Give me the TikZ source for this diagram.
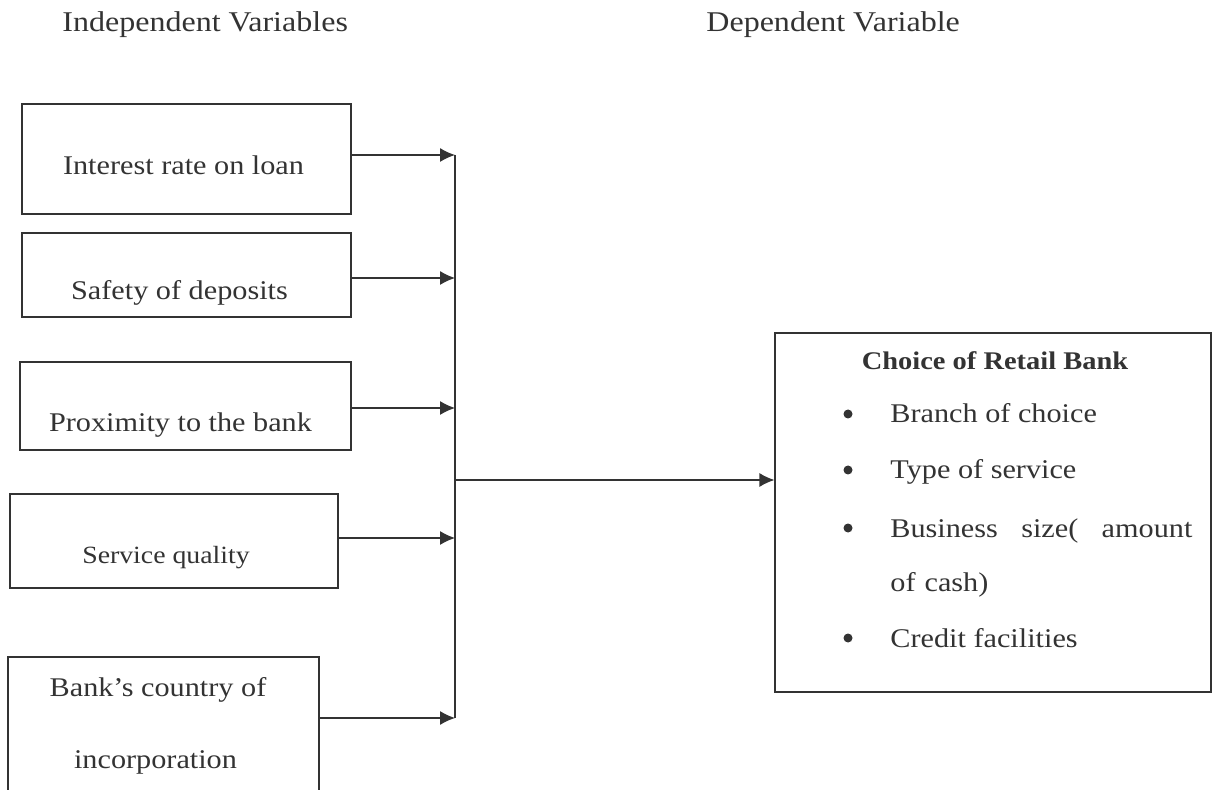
\documentclass[tikz,border=0pt]{standalone}
\usepackage{fontspec}
\setmainfont{Liberation Serif}[FakeStretch=1.12]
\usetikzlibrary{arrows.meta,positioning}

\definecolor{ink}{HTML}{333333}

\begin{document}
\begin{tikzpicture}[
    x=0.5pt, y=-0.5pt,
    >={Latex[length=7.5pt,width=7pt]},
    every node/.style = {text=ink, font=\fontsize{13.5}{16}\selectfont},
    varbox/.style = {draw=ink, line width=0.6pt, inner sep=0pt},
    txt/.style    = {anchor=base, inner sep=0pt},
    head/.style   = {anchor=base west, inner sep=0pt, font=\fontsize{14.3}{17}\selectfont},
    item/.style   = {anchor=base west, inner sep=0pt},
    dot/.style    = {circle, fill=ink, inner sep=0pt, minimum size=4.5pt},
    link/.style   = {draw=ink, line width=0.6pt},
  ]
	\clip (0,0) rectangle (1214,790);
	\fill[white] (0,0) rectangle (1214,790);
	
	% Ueberschriften
	\node[head] (hind) at (62,32) {Independent Variables};
	\node[head] (hdep) at (706,32) {Dependent Variable};
	
	% unabhaengige Variablen
	\node[varbox, minimum width=164.5pt, minimum height=55pt] (iv1) at (186.5,159) {};
	\node[varbox, minimum width=164.5pt, minimum height=42pt] (iv2) at (186.5,275) {};
	\node[varbox, minimum width=165.5pt, minimum height=44pt] (iv3) at (185.5,406) {};
	\node[varbox, minimum width=164pt, minimum height=47pt] (iv4) at (174,541) {};
	\node[varbox, minimum width=155.5pt, minimum height=71.5pt] (iv5) at (163.5,728.5) {};
	
	\node[txt] (t1) at (183.5,175) {Interest rate on loan};
	\node[txt] (t2) at (179.5,300) {Safety of deposits};
	\node[txt] (t3) at (180.5,432) {Proximity to the bank};
	\node[txt, font=\fontsize{12.4}{15}\selectfont] (t4) at (166,563) {Service quality};
	\node[txt] (t5a) at (158,696) {Bank’s country of};
	\node[txt] (t5b) at (155.5,768) {incorporation};
	
	% abhaengige Variable
	\node[varbox, minimum width=218pt, minimum height=179.5pt] (dv) at (993,512.5) {};
	\node[txt, font=\bfseries\fontsize{12.7}{15}\selectfont] (dvt) at (995,370) {Choice of Retail Bank};
	
	\node[dot] (d1) at (848,414) {};
	\node[dot] (d2) at (848,470) {};
	\node[dot] (d3) at (848,528) {};
	\node[dot] (d4) at (848,638) {};
	\node[item] (b1) at (890,423) {Branch of choice};
	\node[item] (b2) at (890,479) {Type of service};
	\node[item, text width=151pt, align=left,
	      font=\fontsize{13.5}{27}\selectfont] (b3) at (890,537) {Business\hfill size(\hfill amount\\of cash)};
	\node[item] (b4) at (890,647) {Credit facilities};
	
	% Sammelschiene
	\coordinate (j1) at (455,155);
	\coordinate (j2) at (455,278);
	\coordinate (j3) at (455,408);
	\coordinate (j4) at (455,538);
	\coordinate (j5) at (455,718);
	\coordinate (jm) at (455,480);
	
	\draw[link,->] (iv1.east |- j1) -- (j1);
	\draw[link,->] (iv2.east |- j2) -- (j2);
	\draw[link,->] (iv3.east |- j3) -- (j3);
	\draw[link,->] (iv4.east |- j4) -- (j4);
	\draw[link,->] (iv5.east |- j5) -- (j5);
	\draw[link] (j1) -- (j5);
	\draw[link,->] (jm) -- (dv.west |- jm);
	
\end{tikzpicture}
\end{document}
